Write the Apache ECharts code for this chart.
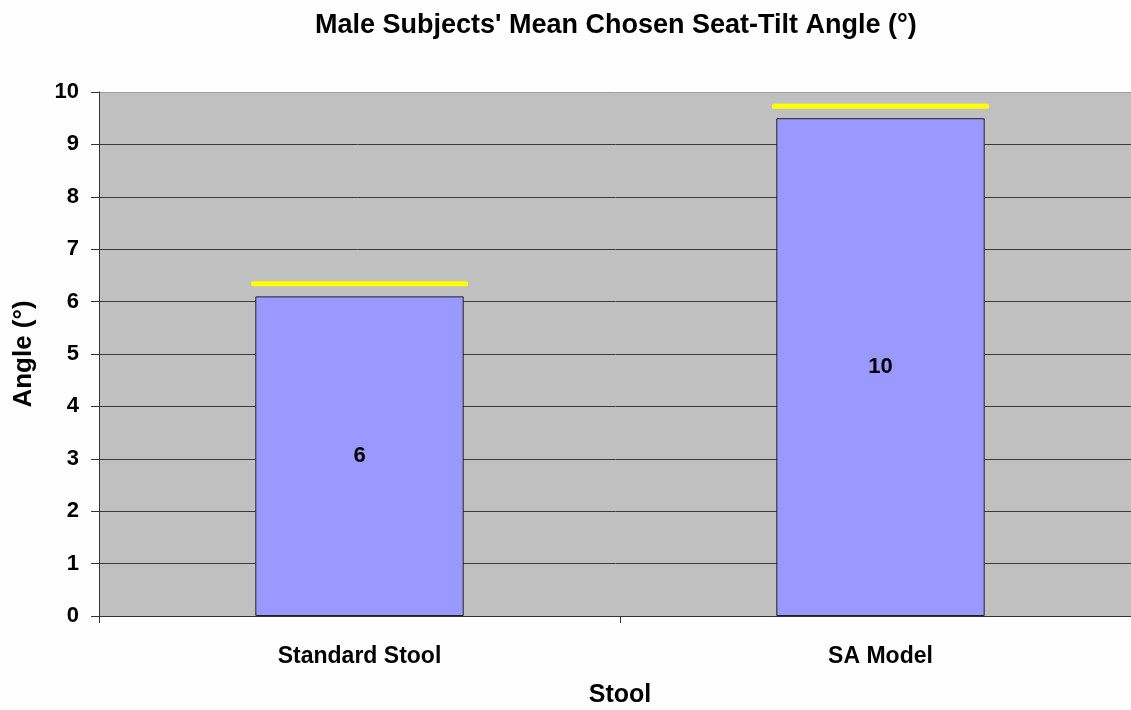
<!DOCTYPE html>
<html>
<head>
<meta charset="utf-8">
<script src="https://cdn.jsdelivr.net/npm/echarts@6/dist/echarts.min.js"></script>
<style>
html,body{margin:0;padding:0;background:#fefefe;}
#chart{width:1131px;height:710px;}
</style>
</head>
<body>
<div id="chart"></div>
<script>
const categories = ['Standard Stool', 'SA Model'];
const meanAngles = [6.1, 9.5];
const markerValues = [6.34, 9.73];
const yTicks = [0, 1, 2, 3, 4, 5, 6, 7, 8, 9, 10];

const FONT = '"Liberation Sans", Arial, sans-serif';
const chart = echarts.init(document.getElementById('chart'), null, {renderer: 'canvas'});

const gridColors = yTicks.map((v, i) => i === yTicks.length - 1 ? '#a0a0a0' : '#3a3a3a');

chart.setOption({
  backgroundColor: '#fefefe',
  animation: false,
  title: {
    text: "Male Subjects' Mean Chosen Seat-Tilt Angle (°)",
    left: 310,
    top: 7,
    textStyle: {fontFamily: FONT, fontWeight: 'bold', fontSize: 27, color: '#000'}
  },
  grid: {left: 99, top: 92, width: 1042, height: 524, containLabel: false, outerBoundsMode: 'none',
    show: true, backgroundColor: '#c0c0c0', borderWidth: 0},
  xAxis: {
    type: 'category',
    data: categories,
    name: 'Stool',
    nameLocation: 'middle',
    nameGap: 67,
    nameTextStyle: {fontFamily: FONT, fontWeight: 'bold', fontSize: 25, color: '#000'},
    axisLine: {lineStyle: {color: '#333', width: 1}},
    axisTick: {show: true, length: 7, lineStyle: {color: '#333'}},
    axisLabel: {fontFamily: FONT, fontWeight: 'bold', fontSize: 23, color: '#000', margin: 29},
    splitLine: {show: false}
  },
  yAxis: {
    type: 'value',
    min: 0,
    max: 10,
    interval: 1,
    name: 'Angle (°)',
    nameLocation: 'middle',
    nameGap: 62,
    nameTextStyle: {fontFamily: FONT, fontWeight: 'bold', fontSize: 26, color: '#000'},
    axisLine: {show: true, lineStyle: {color: '#333', width: 1}},
    axisTick: {show: true, length: 8, lineStyle: {color: '#333'}},
    axisLabel: {fontFamily: FONT, fontWeight: 'bold', fontSize: 22, color: '#000', margin: 20,
      formatter: v => yTicks.includes(v) ? String(v) : ''},
    splitLine: {show: true, lineStyle: {color: gridColors, width: 1}}
  },
  series: [
    {
      type: 'bar',
      data: meanAngles,
      barWidth: '40%',
      itemStyle: {color: '#9999ff', borderColor: '#222', borderWidth: 1},
      label: {
        show: true,
        position: 'inside',
        formatter: p => String(Math.round(p.value)),
        fontFamily: FONT, fontWeight: 'bold', fontSize: 22, color: '#000'
      },
      z: 2
    },
    {
      type: 'custom',
      data: markerValues.map((v, i) => [i, v]),
      encode: {x: 0, y: 1},
      renderItem: function (params, api) {
        const pt = api.coord([api.value(0), api.value(1)]);
        const band = api.size([1, 0])[0];
        const half = band * 0.2 + 2;
        return {
          type: 'line',
          shape: {x1: pt[0] - half, y1: pt[1], x2: pt[0] + half, y2: pt[1]},
          style: {stroke: '#ffff00', lineWidth: 5, lineCap: 'round'}
        };
      },
      z: 3
    }
  ]
});
</script>
</body>
</html>
